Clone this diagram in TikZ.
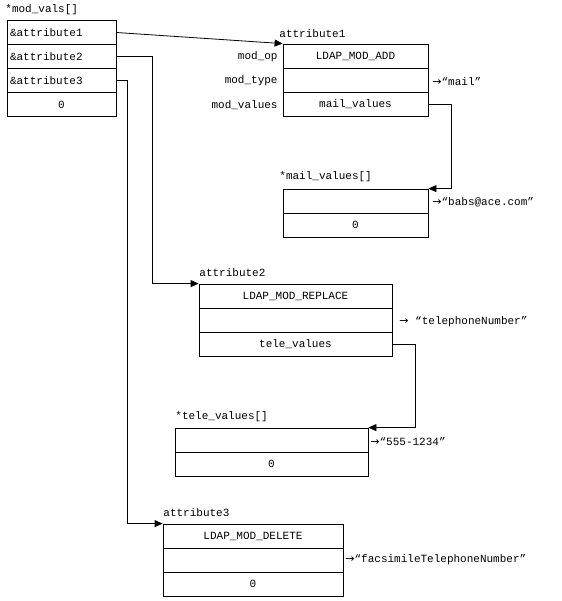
\documentclass[tikz,border=0pt]{standalone}
\usepackage{fontspec}
\setmainfont{Liberation Mono}
\newfontfamily\arrowfont{DejaVu Sans}
\newcommand\toarrow{{\arrowfont →}}
\usetikzlibrary{arrows.meta}
\begin{document}
\begin{tikzpicture}[x=1pt,y=1pt,line width=0.8pt,font=\fontsize{11pt}{13pt}\selectfont,
	cell/.style={draw,black,minimum height=24pt},
	lcell/.style={cell,text width=103pt,inner xsep=3pt,align=left},
	ptr/.style={-{Triangle[length=8pt,width=7pt]}}]
	\tikzstyle{every node}+=[inner sep=0pt]
	\useasboundingbox (0,0) rectangle (561,-601);
	% mod_vals array
	\node [anchor=west] (tmv) at (5,-10) {*mod\_vals[]};
	\node [lcell] (mv1) at (61.5,-32.5) {\&attribute1};
	\node [lcell] (mv2) at (61.5,-56.5) {\&attribute2};
	\node [lcell] (mv3) at (61.5,-80.5) {\&attribute3};
	\node [cell,minimum width=109pt] (mv4) at (61.5,-104.5) {0};
	% attribute1
	\node [anchor=west] (ta1) at (279,-34) {attribute1};
	\node [cell,minimum width=145pt] (a1op) at (355.5,-56) {LDAP\_MOD\_ADD};
	\node [cell,minimum width=145pt] (a1type) at (355.5,-80) {};
	\node [cell,minimum width=145pt] (a1val) at (355.5,-104) {mail\_values};
	\node [anchor=east] (lop) at (278,-57) {mod\_op};
	\node [anchor=east] (ltype) at (278,-81) {mod\_type};
	\node [anchor=east] (lval) at (278,-105) {mod\_values};
	\node [anchor=west] (s1) at (432,-82) {\toarrow“mail”};
	% mail_values array
	\node [anchor=west] (tml) at (279,-177) {*mail\_values[]};
	\node [cell,minimum width=145pt] (ml1) at (355.5,-201) {};
	\node [cell,minimum width=145pt] (ml2) at (355.5,-225) {0};
	\node [anchor=west] (s2) at (432,-202) {\toarrow“babs@ace.com”};
	% attribute2
	\node [anchor=west] (ta2) at (199,-273) {attribute2};
	\node [cell,minimum width=193pt] (a2op) at (295.5,-296) {LDAP\_MOD\_REPLACE};
	\node [cell,minimum width=193pt] (a2type) at (295.5,-320) {};
	\node [cell,minimum width=193pt] (a2val) at (295.5,-344) {tele\_values};
	\node [anchor=west] (s3) at (399,-322) {\toarrow\ “telephoneNumber”};
	% tele_values array
	\node [anchor=west] (ttl) at (175,-417) {*tele\_values[]};
	\node [cell,minimum width=193pt] (tl1) at (271.5,-440) {};
	\node [cell,minimum width=193pt] (tl2) at (271.5,-464) {0};
	\node [anchor=west] (s4) at (370,-442) {\toarrow“555-1234”};
	% attribute3
	\node [anchor=west] (ta3) at (163,-513) {attribute3};
	\node [cell,minimum width=180pt] (a3op) at (253,-536) {LDAP\_MOD\_DELETE};
	\node [cell,minimum width=180pt] (a3type) at (253,-560) {};
	\node [cell,minimum width=180pt] (a3val) at (253,-584) {0};
	\node [anchor=west] (s5) at (345,-560) {\toarrow“facsimileTelephoneNumber”};
	% pointers
	\draw [ptr] (mv1.east) -- (a1op.north west);
	\draw [ptr] (mv2.east) -- ++(36,0) |- (a2op.north west);
	\draw [ptr] (mv3.east) -- ++(11,0) |- (a3op.north west);
	\draw [ptr] (a1val.east) -- ++(23,0) |- (ml1.north east);
	\draw [ptr] (a2val.east) -- ++(23,0) |- (tl1.north east);
\end{tikzpicture}
\end{document}
